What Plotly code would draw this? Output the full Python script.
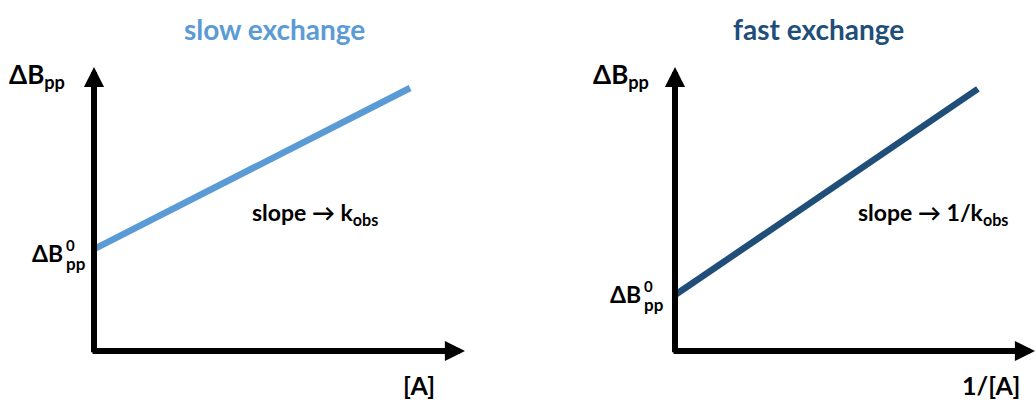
import plotly.graph_objects as go

W, H = 1036, 400

# ---- data (conceptual linear plots) ----
slow_x = [0.0, 8.52]
slow_y = [3.59, 9.26]
fast_x = [0.0, 8.39]
fast_y = [1.97, 9.23]

titles = ["slow exchange", "fast exchange"]
x_labels = ["[A]", "1/[A]"]
slope_labels = ["slope → k<sub>obs</sub>", "slope → 1/k<sub>obs</sub>"]
y_label = "ΔB<sub>pp</sub>"

slow_color = "#5B9BD5"
fast_color = "#1F4E79"
FONT = "Lato"


def px(x):
    return x / W


def py(y):
    return 1 - y / H


fig = go.Figure()
fig.add_trace(go.Scatter(x=slow_x, y=slow_y, mode="lines",
                         line=dict(color=slow_color, width=6.5),
                         xaxis="x", yaxis="y", hoverinfo="skip", cliponaxis=False))
fig.add_trace(go.Scatter(x=fast_x, y=fast_y, mode="lines",
                         line=dict(color=fast_color, width=6.5),
                         xaxis="x2", yaxis="y2", hoverinfo="skip", cliponaxis=False))

ax_common = dict(visible=False, showgrid=False, zeroline=False, fixedrange=True)

arrow_style = dict(text="", showarrow=True, arrowhead=2, arrowsize=0.67,
                   arrowwidth=6, arrowcolor="black", standoff=0, startstandoff=0)
annotations = []
# axis arrows
for xr, yr in (("x", "y"), ("x2", "y2")):
    annotations.append(dict(x=0, y=10.0, ax=0, ay=-0.1, xref=xr, yref=yr, axref=xr, ayref=yr,
                            **arrow_style))
annotations.append(dict(x=10.0, y=0, ax=-0.08, ay=0, xref="x", yref="y", axref="x", ayref="y",
                        **arrow_style))
# right panel x arrow runs past the page edge: anchor in paper coords
annotations.append(dict(x=px(1045), y=py(351), ax=-(1045 - 672), ay=0, xref="paper", yref="paper",
                        axref="pixel", ayref="pixel", **arrow_style))


def txt(text, x, y, size, color="black", xanchor="left", yanchor="middle"):
    annotations.append(dict(text=text, x=px(x), y=py(y), xref="paper", yref="paper",
                            xanchor=xanchor, yanchor=yanchor, showarrow=False,
                            font=dict(family=FONT, size=size, color=color, weight="bold")))


# titles
txt(titles[0], 274, 29, 28, slow_color, xanchor="center")
txt(titles[1], 818, 29, 28, fast_color, xanchor="center")

# y labels
txt(y_label, 7, 76, 26)
txt(y_label, 591, 76, 26)

# intercept labels  ΔB^0_pp
for bx, base in ((65, 262), (643, 303)):
    txt("ΔB", bx, base - 9, 23, xanchor="right")
    txt("0", bx - 1, base - 17, 15)
    txt("pp", bx - 1, base + 1, 17)

# slope labels
txt(slope_labels[0], 250, 213, 23)
txt(slope_labels[1], 856, 213, 23)

# x labels
txt(x_labels[0], 437, 385, 25, xanchor="right")
txt(x_labels[1], 1022, 385, 25, xanchor="right")

fig.update_layout(
    width=W, height=H,
    margin=dict(l=0, r=0, t=0, b=0),
    paper_bgcolor="white", plot_bgcolor="white",
    showlegend=False,
    xaxis=dict(domain=[px(94), px(465)], range=[0, 10], anchor="y", **ax_common),
    yaxis=dict(domain=[py(351), py(67)], range=[0, 10], anchor="x", **ax_common),
    xaxis2=dict(domain=[px(675), 1.0], range=[0, 10], anchor="y2", **ax_common),
    yaxis2=dict(domain=[py(351), py(67)], range=[0, 10], anchor="x2", **ax_common),
    annotations=annotations,
)

fig.write_html("out.html", config={"displayModeBar": False},
               post_script="document.body.style.margin='0';document.body.style.overflow='hidden';")
